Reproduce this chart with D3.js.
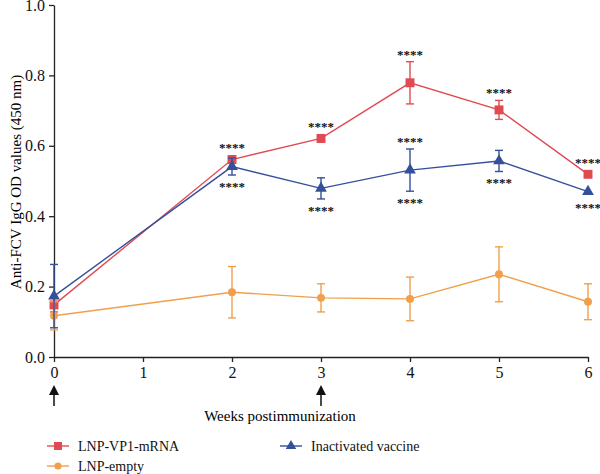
<!DOCTYPE html>
<html lang="en">
<head>
<meta charset="utf-8">
<title>Anti-FCV IgG OD values</title>
<script src="https://cdn.jsdelivr.net/npm/d3@7"></script>
<style>
  body { margin: 0; background: #fff; }
  text { font-family: "Liberation Serif", "DejaVu Serif", serif; }
  .axis path, .axis line { stroke: #222; stroke-width: 1.3; }
  .axis text { font-size: 16px; fill: #111; }
</style>
</head>
<body>
<script>
// data
const weeks = [0, 2, 3, 4, 5, 6];
const mrnaMean  = [0.148, 0.561, 0.621, 0.779, 0.702, 0.519];
const mrnaErr   = [0.02, 0.010, 0.010, 0.060, 0.027, 0.0];
const inactMean = [0.173, 0.541, 0.479, 0.531, 0.557, 0.470];
const inactErr  = [0.090, 0.024, 0.030, 0.060, 0.030, 0.0];
const emptyMean = [0.117, 0.184, 0.168, 0.165, 0.235, 0.157];
const emptyErr  = [0.040, 0.073, 0.040, 0.062, 0.078, 0.051];
const xTicks = [0, 1, 2, 3, 4, 5, 6];
const yTicks = [0, 0.2, 0.4, 0.6, 0.8, 1.0];
const boostWeeks = [0, 3];
// significance marks: series, week, side
const stars = [
  ["mrna", 2, "up"], ["mrna", 3, "up"], ["mrna", 4, "up"], ["mrna", 5, "up"], ["mrna", 6, "up"],
  ["inact", 2, "down"], ["inact", 3, "down"], ["inact", 4, "up"], ["inact", 4, "down"],
  ["inact", 5, "down"], ["inact", 6, "down"]
];

const w = 600, h = 474;
const x = d3.scaleLinear().domain([0, 6]).range([54, 588]);
const y = d3.scaleLinear().domain([0, 1]).range([357, 5]);

const series = [
  {key: "mrna", name: "LNP-VP1-mRNA", color: "#e04b52", mean: mrnaMean, err: mrnaErr, shape: d3.symbolSquare, size: 80},
  {key: "empty", name: "LNP-empty", color: "#f0a04c", mean: emptyMean, err: emptyErr, shape: d3.symbolCircle, size: 50},
  {key: "inact", name: "Inactivated vaccine", color: "#34509a", mean: inactMean, err: inactErr, shape: d3.symbolTriangle, size: 60}
];

const svg = d3.select("body").append("svg").attr("width", w).attr("height", h);

// axes
svg.append("g").attr("class", "axis")
  .attr("transform", "translate(0,357)")
  .call(d3.axisBottom(x).tickValues(xTicks).tickFormat(d3.format("d")).tickSize(5).tickPadding(5).tickSizeOuter(0));
svg.append("g").attr("class", "axis")
  .attr("transform", "translate(54,0)")
  .call(d3.axisLeft(y).tickValues(yTicks).tickFormat(d3.format(".1f")).tickSize(5).tickPadding(4).tickSizeOuter(0));
svg.selectAll(".axis").attr("font-family", null);

svg.append("text")
  .attr("transform", "translate(21,182) rotate(-90)")
  .attr("text-anchor", "middle")
  .style("font-size", "15px")
  .text("Anti-FCV IgG OD values (450 nm)");

svg.append("text")
  .attr("x", 280).attr("y", 421)
  .attr("text-anchor", "middle")
  .style("font-size", "15px")
  .text("Weeks postimmunization");

// immunization arrows
svg.append("defs").append("marker")
  .attr("id", "ah").attr("viewBox", "0 0 10 10").attr("refX", 5).attr("refY", 5)
  .attr("markerWidth", 10).attr("markerHeight", 10).attr("markerUnits", "userSpaceOnUse")
  .attr("orient", "auto")
  .append("path").attr("d", "M0,0L10,5L0,10Z").attr("fill", "#111");
svg.selectAll(".boost").data(boostWeeks).enter().append("line")
  .attr("x1", d => x(d)).attr("x2", d => x(d))
  .attr("y1", 406).attr("y2", 390)
  .attr("stroke", "#111").attr("stroke-width", 1.5)
  .attr("marker-end", "url(#ah)");

// series
const line = d3.line().x((d, i) => x(weeks[i])).y(d => y(d));
series.forEach(s => {
  const g = svg.append("g");
  g.append("path").datum(s.mean)
    .attr("d", line).attr("fill", "none")
    .attr("stroke", s.color).attr("stroke-width", 1.4);
  const eb = g.selectAll(".eb").data(s.mean.map((m, i) => ({m, e: s.err[i], wk: weeks[i]})).filter(d => d.e > 0))
    .enter().append("g").attr("stroke", s.color).attr("stroke-width", 1.4);
  eb.append("line").attr("x1", d => x(d.wk)).attr("x2", d => x(d.wk))
    .attr("y1", d => y(d.m - d.e)).attr("y2", d => y(d.m + d.e));
  eb.append("line").attr("x1", d => x(d.wk) - 4).attr("x2", d => x(d.wk) + 4)
    .attr("y1", d => y(d.m - d.e)).attr("y2", d => y(d.m - d.e));
  eb.append("line").attr("x1", d => x(d.wk) - 4).attr("x2", d => x(d.wk) + 4)
    .attr("y1", d => y(d.m + d.e)).attr("y2", d => y(d.m + d.e));
  g.selectAll(".pt").data(s.mean).enter().append("path")
    .attr("d", d3.symbol().type(s.shape).size(s.size))
    .attr("transform", (d, i) => `translate(${x(weeks[i])},${y(d)})`)
    .attr("fill", s.color);
});

// significance stars
const byKey = {};
series.forEach(s => byKey[s.key] = s);
svg.selectAll(".star").data(stars).enter().append("text")
  .attr("x", d => x(d[1]))
  .attr("y", d => {
    const s = byKey[d[0]], i = weeks.indexOf(d[1]);
    const e = Math.max(s.err[i], 0.012);
    return d[2] === "up" ? y(s.mean[i] + e) - 3 : y(s.mean[i] - e) + 16;
  })
  .attr("text-anchor", "middle")
  .style("font-size", "13px")
  .style("font-weight", "bold")
  .attr("fill", "#111")
  .text("****");

// legend
const legendPos = [[47, 446], [47, 466], [280, 446]];
const lg = svg.selectAll(".lg").data(series).enter().append("g")
  .attr("transform", (d, i) => `translate(${legendPos[i][0]},${legendPos[i][1]})`);
lg.append("line").attr("x1", 0).attr("x2", 22).attr("stroke", d => d.color).attr("stroke-width", 1.4);
lg.append("path").attr("d", d => d3.symbol().type(d.shape).size(d.size * 0.8)())
  .attr("transform", "translate(11,0)").attr("fill", d => d.color);
lg.append("text").attr("x", 31).attr("y", 5).style("font-size", "14px").attr("fill", "#111").text(d => d.name);
</script>
</body>
</html>
